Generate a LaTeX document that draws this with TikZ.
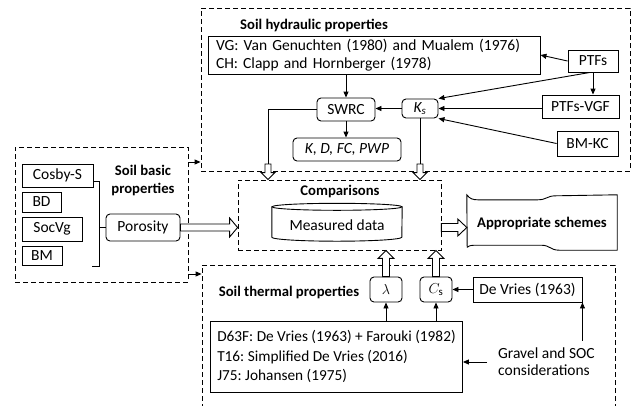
\documentclass[tikz,border=0pt]{standalone}
\usepackage{fontspec}
\setmainfont{Carlito}
\frenchspacing
\usetikzlibrary{calc,arrows.meta}
\newcommand{\hollowarrow}[5]{%
  \coordinate (hwH) at ($(#2)!#5!(#1)$);
  \draw[hollowsty] ($(#1)!#3!90:(#2)$) -- ($(hwH)!#3!90:(#2)$) -- ($(hwH)!#4!90:(#2)$) -- (#2)
    -- ($(hwH)!#4!-90:(#2)$) -- ($(hwH)!#3!-90:(#2)$) -- ($(#1)!#3!-90:(#2)$) -- cycle;}
\tikzset{
  lbl/.style={font=\fontsize{15.5}{18}\selectfont},
  ttl/.style={font=\bfseries\fontsize{14.7}{18}\selectfont},
  sbox/.style 2 args={draw, line width=0.9pt, minimum width=#1, minimum height=#2, inner sep=0pt, lbl},
  rbox/.style 2 args={sbox={#1}{#2}, rounded corners=4pt},
  dbox/.style 2 args={draw, line width=0.8pt, dash pattern=on 5pt off 3pt, minimum width=#1, minimum height=#2, inner sep=0pt},
  arr/.style={draw, line width=0.9pt, -{Triangle[length=6pt,width=5pt]}},
  plain/.style={draw, line width=0.9pt},
  hollowsty/.style={draw, fill=white, line width=0.9pt, line join=miter},
}
\begin{document}
\begin{tikzpicture}[x=1pt,y=-1pt]
\useasboundingbox (0,0) rectangle (631,405);
% containers
\node[dbox={429}{163}] (hyd) at (415.5,89.5) {};
\node[dbox={173}{135}] (basic) at (101.5,214.5) {};
\node[dbox={203}{70}] (comp) at (339.5,215) {};
\node[dbox={413}{155}] (therm) at (408.5,342.5) {};
% titles
\node[ttl] (hydt) at (314,25) {Soil hydraulic properties};
\node[ttl, align=center] (basict) at (143,180) {Soil basic\\properties};
\node[ttl] (compt) at (340,191) {Comparisons};
\node[ttl] (thermt) at (289,292) {Soil thermal properties};
% hydraulic
\node[sbox={332}{38}, text width=316pt, align=left] (vg) at (374,55)
  {VG: Van Genuchten (1980) and Mualem (1976)\\CH: Clapp and Hornberger (1978)};
\node[sbox={50}{22}] (ptfs) at (593,61) {PTFs};
\node[sbox={77}{23}] (ptfsvgf) at (580.5,106.5) {PTFs-VGF};
\node[sbox={61}{25}] (bmkc) at (587.5,143.5) {BM-KC};
\node[rbox={36}{19}] (ks) at (420,108.5) {\textit{K\textsubscript{s}}};
\node[rbox={58}{23}] (swrc) at (346,109.5) {SWRC};
\node[rbox={108}{23}] (kd) at (347,149.5) {\textit{K, D, FC, PWP}};
% basic
\node[sbox={71}{23}] (cosby) at (57.5,175.5) {Cosby-S};
\node[sbox={39}{20}] (bd) at (41.5,202) {BD};
\node[sbox={60}{24}] (socvg) at (52,229) {SocVg};
\node[sbox={40}{19}] (bm) at (42,255.5) {BM};
\node[rbox={74}{27}] (porosity) at (143,227.5) {Porosity};
\coordinate (bt0) at (93,181);
\coordinate (bt) at (99,181);
\coordinate (bb) at (99,266);
\coordinate (bb0) at (92,266);
\draw[plain] (bt0) -- (bt) -- (bb) -- (bb0);
\draw[plain] (porosity.west) -- (porosity.west -| bt);
% comparisons
\node[lbl, minimum width=130, minimum height=38] (meas) at (337,222) {};
\path (meas.north west) ++(0,4) coordinate (mtl)
  (meas.north east) ++(0,4) coordinate (mtr)
  (meas.south west) ++(0,-4) coordinate (mbl)
  (meas.south east) ++(0,-4) coordinate (mbr);
\draw[line width=0.9pt] ($(mtl)!0.5!(mtr)$) ellipse [x radius=65, y radius=3.5];
\draw[line width=0.9pt] (mtl) -- (mbl) arc[start angle=180, end angle=360, x radius=65, y radius=-4] -- (mtr);
\node[lbl] (meastxt) at (337,225) {Measured data};
% appropriate schemes
\node[minimum width=150, minimum height=55, inner sep=0pt] (app) at (542,222.5) {};
\draw[line width=0.9pt] (app.north west) .. controls ++(3,4) and ++(-5,0) .. ++(11,5) -- ++(60,0)
  .. controls ++(9,0) and ++(-9,0) .. ++(18,-4) -- (app.north east) -- (app.south east) -- ++(-58,0)
  .. controls ++(-9,0) and ++(9,0) .. ++(-18,-5) -- ++(-66,0) .. controls ++(-5,0) and ++(1,-1) .. ++(-8,2) -- cycle;
\node[ttl] (appt) at (542,223) {Appropriate schemes};
% thermal
\node[rbox={32}{25}] (lam) at (386,289.5) {$\lambda$};
\node[rbox={32}{25}] (cs) at (436,289.5) {$C_{\mathrm{s}}$};
\node[sbox={109}{25}] (dev) at (527.5,289.5) {De Vries (1963)};
\node[sbox={252}{71}, anchor=west, inner xsep=5pt, align=left, font=\fontsize{15.3}{19.5}\selectfont] (d63) at (210,356.5)
  {D63F: De Vries (1963) + Farouki (1982)\\T16: Simplified De Vries (2016)\\J75: Johansen (1975)};
\node[lbl, anchor=west, align=left, inner xsep=11pt, inner ysep=7pt, font=\fontsize{15.5}{17}\selectfont] (gravel) at (487,362) {Gravel and SOC\\considerations};
% connectors basic -> containers
\coordinate (hin) at (188,162);
\coordinate (tin) at (188,274);
\draw[arr] (hin) -- (hin -| hyd.west);
\draw[arr] (tin) -- (tin -| therm.west);
% hydraulic connectors
\draw[arr] (ptfs.west) -- (vg.east);
\draw[arr] (ptfs.south) -- (ptfs.south |- ptfsvgf.north);
\draw[arr] ($(ptfs.south)+(-3,0)$) -- (ks.north east);
\draw[arr] (ptfsvgf.west |- ks.east) -- (ks.east);
\draw[arr] (bmkc.west) -- (ks.south east);
\draw[arr] (ks.west) -- (swrc.east |- ks.west);
\draw[arr] (swrc.north |- vg.south) -- (swrc.north);
\draw[arr] (swrc.south) -- (swrc.south |- kd.north);
\coordinate (hA) at (268,164);
\coordinate (hB) at (420,164);
\draw[plain] (swrc.west) -| (hA);
\draw[plain] (ks.south) -- (hB);
\hollowarrow{hA}{hA |- comp.north}{3pt}{7pt}{7pt}
\hollowarrow{hB}{hB |- comp.north}{3pt}{7pt}{7pt}
\hollowarrow{porosity.east}{comp.west |- porosity.east}{3.5pt}{9.5pt}{8pt}
\hollowarrow{comp.east |- porosity.east}{app.west |- porosity.east}{4pt}{8.5pt}{9pt}
\hollowarrow{lam.north}{lam.north |- comp.south}{3.5pt}{8pt}{8pt}
\hollowarrow{cs.north}{cs.north |- comp.south}{3.5pt}{8pt}{8pt}
% thermal connectors
\draw[arr] (lam.south |- d63.north) -- (lam.south);
\draw[arr] (cs.south |- d63.north) -- (cs.south);
\draw[arr] (dev.west) -- (cs.east);
\draw[arr] (gravel.west) -- (d63.east |- gravel.west);
\draw[arr] (gravel.north -| dev.south east) -- (dev.south east);
\end{tikzpicture}
\end{document}
